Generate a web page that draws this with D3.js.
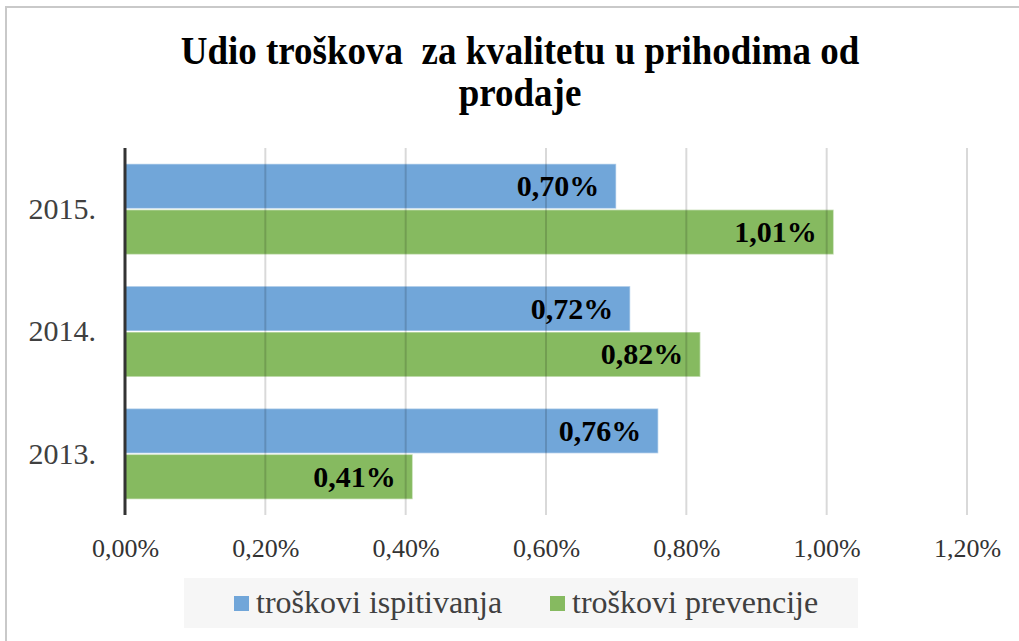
<!DOCTYPE html>
<html><head><meta charset="utf-8">
<script src="https://cdn.jsdelivr.net/npm/d3@7"></script>
<style>html,body{margin:0;padding:0;background:#fff;}svg{display:block;}</style>
</head><body>
<script>
const categories = ["2015.", "2014.", "2013."];
const seriesNames = ["troškovi ispitivanja", "troškovi prevencije"];
const ispitivanja = [0.70, 0.72, 0.76];
const prevencije = [1.01, 0.82, 0.41];
const tickValues = [0, 0.2, 0.4, 0.6, 0.8, 1.0, 1.2];
const titleLines = ["Udio troškova  za kvalitetu u prihodima od", "prodaje"];
const colors = ["#71a6d9", "#86ba60"];

(function () {
const W = 1019, H = 641;
const svg = d3.select("body").append("svg").attr("width", W).attr("height", H);
const serif = "'Liberation Serif','Times New Roman',serif";

svg.append("path").attr("d", `M6,${H} V7 H${W}`).attr("fill", "none").attr("stroke", "#c9c9c9").attr("stroke-width", 2);

const tg = svg.append("g").attr("transform", "translate(520,0) scale(1,1.08)");
tg.selectAll("text").data(titleLines).join("text")
  .attr("x", 0).attr("y", (d, i) => (64 + i * 42) / 1.08)
  .attr("text-anchor", "middle").attr("font-family", serif).attr("font-weight", "bold")
  .attr("font-size", 37).attr("fill", "#000").style("white-space", "pre").text(d => d);

const pLeft = 125, pRight = 967, pTop = 148, pBottom = 515;
const x = d3.scaleLinear().domain([0, 1.2]).range([pLeft, pRight]);
const y0 = d3.scaleBand().domain(categories).range([pTop, pBottom]).paddingInner(0.25).paddingOuter(0.125);
const y1 = d3.scaleBand().domain(seriesNames).range([0, y0.bandwidth()]).padding(0);

const data = categories.map((c, i) => ({cat: c, vals: [ispitivanja[i], prevencije[i]]}));
const fmt = v => d3.format(".2f")(v).replace(".", ",") + "%";

const g = svg.append("g");
data.forEach(d => {
  d.vals.forEach((v, j) => {
    const yy = y0(d.cat) + y1(seriesNames[j]);
    g.append("rect").attr("x", x(0)).attr("y", yy + 0.5).attr("width", x(v) - x(0)).attr("height", y1.bandwidth() - 1)
      .attr("fill", colors[j]).attr("stroke", "#ffffff").attr("stroke-opacity", 0.45).attr("stroke-width", 1.5);
  });
});

svg.append("g").selectAll("line").data(tickValues.slice(1)).join("line")
  .attr("x1", d => x(d)).attr("x2", d => x(d)).attr("y1", pTop).attr("y2", pBottom)
  .attr("stroke", "#000").attr("stroke-opacity", 0.15).attr("stroke-width", 2);

data.forEach(d => {
  d.vals.forEach((v, j) => {
    const yy = y0(d.cat) + y1(seriesNames[j]) + y1.bandwidth() / 2;
    svg.append("text").attr("x", x(v) - 17).attr("y", yy + 10)
      .attr("text-anchor", "end").attr("font-family", serif).attr("font-weight", "bold")
      .attr("font-size", 30).attr("fill", "#000").text(fmt(v));
  });
});

const xAxis = d3.axisBottom(x).tickValues(tickValues).tickSize(0).tickFormat(fmt);
const xa = svg.append("g").attr("transform", `translate(0,${pBottom})`).call(xAxis);
xa.select(".domain").remove();
xa.selectAll("text").attr("font-family", serif).attr("font-size", 26).attr("fill", "#333").attr("dy", 0).attr("y", 42);

const yAxis = d3.axisLeft(y0).tickSize(0).tickPadding(0);
const ya = svg.append("g").attr("transform", `translate(${pLeft},0)`).call(yAxis);
ya.select(".domain").remove();
ya.selectAll("text").attr("font-family", serif).attr("font-size", 30).attr("fill", "#404040").attr("x", -29).attr("dy", "0.33em");
svg.append("line").attr("x1", pLeft).attr("x2", pLeft).attr("y1", pTop).attr("y2", pBottom).attr("stroke", "#333").attr("stroke-width", 3);

const lg = svg.append("g");
lg.append("rect").attr("x", 184).attr("y", 578).attr("width", 674).attr("height", 50).attr("fill", "#f6f6f6");
const legX = [234, 550];
seriesNames.forEach((s, i) => {
  lg.append("rect").attr("x", legX[i]).attr("y", 596).attr("width", 15).attr("height", 15).attr("fill", colors[i]);
  lg.append("text").attr("x", legX[i] + 22).attr("y", 613).attr("font-family", serif).attr("font-size", 32)
    .attr("fill", "#404040").text(s);
});
})();
</script>
</body></html>
